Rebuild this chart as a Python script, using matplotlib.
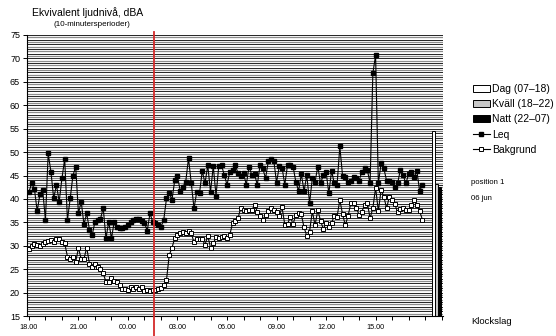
import numpy as np
import matplotlib
matplotlib.use("Agg")
import matplotlib.pyplot as plt
from matplotlib.patches import Patch
from matplotlib.lines import Line2D

plt.rcParams['font.family'] = ['Liberation Sans', 'DejaVu Sans']

# 10-minute periods from 18:00 to 17:50 next day (144 values)
leq = [41.5, 43.3, 42.1, 37.4, 41.0, 41.9, 35.5, 49.7, 45.8, 40.1,
       43.0, 39.4, 44.4, 48.5, 35.5, 40.1, 45.0, 46.9, 36.9, 39.4,
       34.6, 36.9, 33.4, 32.3, 35.1, 35.5, 35.7, 38.1, 31.6, 35.1,
       31.6, 35.1, 34.0, 33.7, 33.7, 34.0, 34.4, 35.0, 35.6, 35.8,
       35.7, 35.3, 34.9, 33.2, 36.9, 35.1, 34.9, 34.5, 34.1, 35.5,
       40.1, 41.3, 39.8, 44.0, 44.8, 41.7, 42.6, 43.7, 48.7, 43.3,
       38.0, 41.5, 41.2, 46.0, 43.3, 47.2, 41.5, 47.0, 40.7, 47.0,
       47.2, 45.1, 43.0, 45.8, 46.2, 47.2, 45.5, 44.9, 45.5, 43.0,
       46.9, 45.1, 45.3, 43.0, 47.2, 46.5, 44.4, 48.0, 48.5, 48.2,
       43.5, 47.0, 46.7, 43.0, 47.3, 47.2, 46.9, 43.7, 41.7, 45.3,
       41.7, 45.1, 39.1, 44.4, 43.7, 46.9, 43.3, 45.1, 45.8, 41.2,
       46.0, 43.3, 43.0, 51.2, 44.9, 44.6, 43.7, 43.9, 44.6, 44.4,
       43.9, 45.8, 46.5, 46.2, 43.3, 66.8, 70.7, 43.3, 47.6, 46.5,
       43.9, 43.9, 43.7, 42.5, 43.3, 46.2, 45.1, 43.3, 45.3, 45.8,
       44.6, 46.0, 41.7, 43.0]

bakgrund = [29.2, 30.0, 30.3, 30.1, 29.9, 30.3, 30.7, 31.0, 31.2, 30.7,
            31.5, 31.5, 30.7, 30.5, 27.7, 27.2, 27.5, 26.6, 29.5, 27.2,
            27.2, 29.6, 26.2, 25.5, 26.0, 25.5, 25.0, 24.1, 22.3, 22.3,
            23.1, 22.4, 22.3, 21.6, 20.8, 20.7, 20.6, 21.1, 20.8, 21.1,
            20.7, 21.1, 20.4, 20.6, 20.4, 20.6, 20.6, 20.7, 20.9, 21.6,
            22.7, 28.0, 29.6, 31.6, 32.3, 32.7, 33.0, 32.7, 33.2, 32.7,
            30.7, 31.4, 31.4, 31.4, 30.2, 32.1, 29.6, 30.5, 31.8, 31.6,
            31.8, 32.1, 31.6, 32.3, 34.8, 35.3, 35.9, 38.1, 37.6, 37.4,
            37.6, 37.6, 38.7, 37.3, 36.4, 35.6, 36.6, 37.4, 38.0, 37.6,
            37.3, 36.4, 38.2, 34.5, 34.6, 36.2, 34.6, 36.6, 36.9, 36.7,
            33.9, 32.1, 33.0, 37.4, 34.4, 37.6, 35.3, 33.6, 34.9, 33.9,
            34.9, 36.4, 36.2, 39.8, 36.7, 34.4, 36.4, 39.1, 39.1, 38.1,
            36.6, 37.3, 38.7, 39.1, 35.9, 38.0, 42.4, 37.4, 41.9, 40.5,
            38.0, 40.5, 39.8, 38.9, 37.1, 37.8, 38.1, 37.6, 37.6, 38.7,
            39.8, 38.7, 37.4, 35.6]

period_labels = ['Dag (07\u201318)', 'Kv\u00e4ll (18\u201322)', 'Natt (22\u201307)']
period_values = [54.5, 43.1, 42.6]
period_colors = ['white', '#c8c8c8', 'black']

hour_labels = ['18.00', '21.00', '00.00', '03.00', '06.00', '09.00', '12.00', '15.00']
marker_slot = 45.5  # measurement break

fig = plt.figure(figsize=(5.56, 3.36), dpi=100)
ax = fig.add_axes([27 / 556, 1 - 316 / 336, (443 - 27) / 556, (316 - 35) / 336])

x = np.arange(len(leq))

# dense horizontal grid
ax.hlines(np.arange(15.5, 75, 1.0), -0.7, 150.5, colors='#8c8c8c', lw=0.9, zorder=0)
ax.hlines(np.arange(16, 76, 1.0), -0.7, 150.5, colors='black', lw=0.6, zorder=0)

ax.plot(x, leq, color='black', lw=0.8, marker='s', ms=2.6, mfc='black', mec='black', zorder=3)
ax.plot(x, bakgrund, color='black', lw=0.8, marker='s', ms=3.2, mfc='white', mec='black', mew=0.7, zorder=3)

bar_x = [147.1, 148.3, 149.4]
ax.bar(bar_x, [v - 15 for v in period_values], bottom=15, width=1.1,
       color=period_colors, edgecolor='black', linewidth=0.7, zorder=2)

ax.axvline(marker_slot, ymin=-0.075, ymax=1.01, color='#d42a2a', lw=1.3, clip_on=False, zorder=4)

ax.set_xlim(-0.7, 150.5)
ax.set_ylim(15, 75)
ax.set_yticks(np.arange(15, 76, 5))
ax.set_xticks(np.arange(0, 151, 6))
ax.set_xticklabels([hour_labels[i // 3] if i % 3 == 0 and i // 3 < len(hour_labels) else ''
                    for i in range(len(np.arange(0, 151, 6)))])
ax.tick_params(axis='y', direction='out', length=3, width=0.7, labelsize=6.5, pad=2)
ax.tick_params(axis='x', direction='out', length=3, width=0.7, labelsize=5.2, pad=3)
for s in ['top', 'right']:
    ax.spines[s].set_visible(False)
ax.spines['left'].set_linewidth(0.8)
ax.spines['bottom'].set_linewidth(0.8)

fig.text(32 / 556, 1 - 13 / 336, 'Ekvivalent ljudniv\u00e5, dBA', fontsize=7.5, va='center')
fig.text(53 / 556, 1 - 25 / 336, '(10-minutersperioder)', fontsize=5.8, va='center')

handles = [Patch(facecolor=c, edgecolor='black', linewidth=0.7) for c in period_colors]
handles += [Line2D([], [], color='black', lw=0.8, marker='s', ms=2.6, mfc='black'),
            Line2D([], [], color='black', lw=0.8, marker='s', ms=3.2, mfc='white', mew=0.7)]
fig.legend(handles, period_labels + ['Leq', 'Bakgrund'], loc='upper left',
           bbox_to_anchor=(473 / 556, 1 - 84 / 336), frameon=False, fontsize=7.5,
           handlelength=1.6, handleheight=0.7, handletextpad=0.2, labelspacing=0.5,
           borderaxespad=0, borderpad=0)

fig.text(471 / 556, 1 - 182 / 336, 'position 1', fontsize=5.6, va='center')
fig.text(471 / 556, 1 - 198 / 336, '06 jun', fontsize=5.6, va='center')
fig.text(471 / 556, 1 - 321 / 336, 'Klockslag', fontsize=6.8, va='center')

fig.savefig('out.png', dpi=100)
